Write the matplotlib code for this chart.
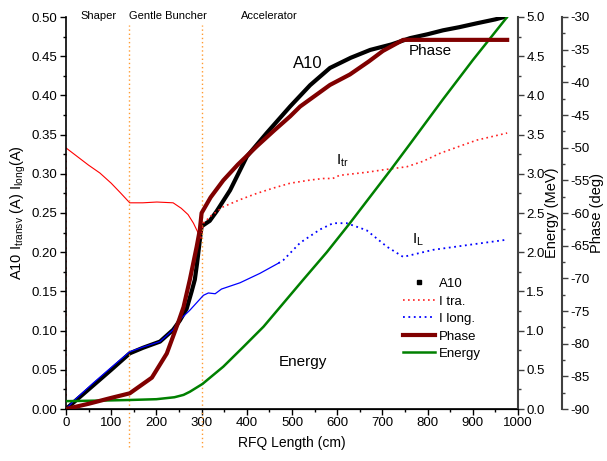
import matplotlib
matplotlib.use("Agg")
import matplotlib.pyplot as plt
from matplotlib.lines import Line2D
from matplotlib.ticker import MultipleLocator, FormatStrFormatter

plt.rcParams['font.family'] = ['Liberation Sans', 'DejaVu Sans']
plt.rcParams['mathtext.fontset'] = 'custom'
plt.rcParams['mathtext.rm'] = 'Liberation Sans'
plt.rcParams['mathtext.default'] = 'regular'
plt.rcParams['axes.unicode_minus'] = False

# ---------------- data ----------------
a10_x = [0, 20, 60, 100, 141, 170, 208, 237, 252, 267, 278, 285, 290, 296, 300, 318, 333, 363,
         400, 444, 496, 540, 584, 630, 673, 720, 761, 800, 834, 870, 909, 950, 976]
a10_y = [0, 0.01, 0.03, 0.05, 0.071, 0.078, 0.086, 0.101, 0.113, 0.128, 0.15, 0.165, 0.186,
         0.215, 0.233, 0.24, 0.252, 0.279, 0.322, 0.352, 0.386, 0.413, 0.435, 0.448, 0.458,
         0.465, 0.473, 0.478, 0.483, 0.487, 0.492, 0.497, 0.501]

itra_start_x = [0, 0]
itra_start_y = [0.0, 0.333]
itra_dense_x = [0, 25, 50, 75, 100, 120, 141, 170, 201, 237, 255, 270, 282, 292, 298]
itra_dense_y = [0.333, 0.322, 0.311, 0.301, 0.288, 0.276, 0.263, 0.263, 0.264, 0.263, 0.256,
                0.248, 0.237, 0.225, 0.218]
itra_sparse_x = [298, 304, 320, 348, 385, 422, 460, 496, 540, 569, 590, 605, 666, 701, 754,
                 790, 827, 870, 909, 976]
itra_sparse_y = [0.218, 0.237, 0.246, 0.258, 0.267, 0.275, 0.282, 0.288, 0.292, 0.294, 0.294,
                 0.298, 0.302, 0.305, 0.309, 0.316, 0.326, 0.335, 0.343, 0.352]

ilong_dense_x = [0, 20, 60, 100, 141, 170, 208, 237, 252, 274, 304, 315, 330, 344, 385, 429,
                 470]
ilong_dense_y = [0, 0.012, 0.033, 0.053, 0.073, 0.079, 0.086, 0.101, 0.114, 0.126, 0.145,
                 0.148, 0.147, 0.153, 0.161, 0.173, 0.186]
ilong_sparse_x = [470, 481, 518, 562, 591, 621, 665, 710, 746, 812, 887, 976]
ilong_sparse_y = [0.186, 0.19, 0.212, 0.229, 0.237, 0.237, 0.228, 0.207, 0.194, 0.203, 0.209,
                  0.216]

phase_x = [0, 50, 100, 141, 190, 223, 248, 260, 274, 289, 296, 300, 320, 348, 380, 422, 460,
           496, 518, 584, 628, 670, 701, 746, 800, 900, 976]
phase_deg = [-90.0, -89.2, -88.3, -87.6, -85.2, -81.5, -76.8, -74.4, -70.2, -65.2, -62.6,
             -60.0, -57.6, -55.0, -52.6, -49.8, -47.4, -45.2, -43.7, -40.4, -38.8, -36.8,
             -35.2, -33.5, -33.5, -33.5, -33.5]

energy_x = [0, 50, 100, 141, 200, 240, 260, 274, 302, 348, 392, 437, 481, 525, 577, 628, 717,
            761, 834, 900, 976]
energy_mev = [0.10, 0.105, 0.11, 0.115, 0.125, 0.15, 0.18, 0.22, 0.32, 0.54, 0.79, 1.05,
              1.35, 1.65, 2.0, 2.37, 3.04, 3.38, 3.95, 4.45, 5.0]

section_x = [140, 300]
section_names = ["Shaper", "Gentle Buncher", "Accelerator"]
section_label_x = [71, 226, 451]

# ---------------- figure ----------------
fig = plt.figure(figsize=(6.07, 4.61), dpi=100)
ax = fig.add_axes([66/607, 1-409/461, 452/607, 392/461])
ax_e = ax.twinx()
ax_p = ax.twinx()
ax_p.spines['right'].set_position(('outward', 44 * 72 / 100))

ax.plot(a10_x, a10_y, color='black', lw=3.0, zorder=2, solid_capstyle='butt')
ax.plot(itra_start_x, itra_start_y, color='#ff2020', lw=1.2, ls=(0, (1, 3)))
ax.plot(itra_dense_x, itra_dense_y, color='#ff0000', lw=0.8)
ax.plot(itra_sparse_x, itra_sparse_y, color='#ff2020', lw=1.2, ls=(0, (1, 2)))
ax.plot(ilong_dense_x, ilong_dense_y, color='#0000ff', lw=0.9, zorder=3)
ax.plot(ilong_sparse_x, ilong_sparse_y, color='#0000ff', lw=1.3, ls=(0, (1, 2)))

ax_p.plot(phase_x, phase_deg, color='#800000', lw=3.0)
ax_e.plot(energy_x, energy_mev, color='#008000', lw=1.8)

for sx in section_x:
    ax.axvline(sx, ymin=-0.097, ymax=0.98, color='#ff9a30', lw=1.0, ls=(0, (1, 2)),
               clip_on=False)

for name, lx in zip(section_names, section_label_x):
    ax.text(lx, 0.501, name, ha='center', va='center', fontsize=8)

ax.text(535, 0.441, "A10", ha='center', va='center', fontsize=12)
ax.text(805, 0.457, "Phase", ha='center', va='center', fontsize=11)
ax.text(597, 0.316, "I$_{tr}$", ha='left', va='center', fontsize=11)
ax.text(765, 0.216, "I$_{L}$", ha='left', va='center', fontsize=11)
ax.text(524, 0.06, "Energy", ha='center', va='center', fontsize=11)

# axes limits and ticks
ax.set_xlim(0, 1000)
ax.set_ylim(0, 0.5)
ax_e.set_ylim(0, 5)
ax_p.set_ylim(-90, -30)

ax.xaxis.set_major_locator(MultipleLocator(100))
ax.xaxis.set_minor_locator(MultipleLocator(50))
ax.yaxis.set_major_locator(MultipleLocator(0.05))
ax.yaxis.set_minor_locator(MultipleLocator(0.025))
ax.yaxis.set_major_formatter(FormatStrFormatter('%.2f'))
ax_e.yaxis.set_major_locator(MultipleLocator(0.5))
ax_e.yaxis.set_minor_locator(MultipleLocator(0.25))
ax_e.yaxis.set_major_formatter(FormatStrFormatter('%.1f'))
ax_p.yaxis.set_major_locator(MultipleLocator(5))
ax_p.yaxis.set_minor_locator(MultipleLocator(2.5))

for a in (ax, ax_e, ax_p):
    a.spines['top'].set_visible(False)
    a.tick_params(which='major', length=4, width=1, labelsize=9.5, pad=2)
    a.tick_params(which='minor', length=2.5, width=1)

ax.spines['right'].set_visible(False)
ax_e.spines['left'].set_visible(False)
ax_p.spines['left'].set_visible(False)
ax.spines['left'].set_linewidth(1.2)
ax.spines['bottom'].set_linewidth(1.2)
for a in (ax_e, ax_p):
    a.spines['right'].set_color('#404040')
    a.spines['right'].set_linewidth(1.5)
    a.tick_params(axis='y', which='both', color='#404040')

ax.set_xlabel("RFQ Length (cm)", fontsize=10, labelpad=5)
ax.set_ylabel("A10 I$_{transv}$ (A) I$_{long}$(A)", fontsize=10.5, labelpad=3)
ax_e.set_ylabel("Energy (MeV)", fontsize=10.5, labelpad=0)
ax_p.set_ylabel("Phase (deg)", fontsize=10.5, labelpad=0)

handles = [
    Line2D([], [], ls='none', marker='s', ms=2.5, color='black'),
    Line2D([], [], color='#ff2020', lw=1.2, ls=(0, (1, 2))),
    Line2D([], [], color='#0000ff', lw=1.3, ls=(0, (1, 2))),
    Line2D([], [], color='#800000', lw=3.0),
    Line2D([], [], color='#008000', lw=1.8),
]
labels = ["A10", "I tra.", "I long.", "Phase", "Energy"]
ax_p.legend(handles, labels, loc='upper left', bbox_to_anchor=(0.72, 0.365), frameon=False,
            fontsize=9.5, handlelength=2.4, labelspacing=0.4, handletextpad=0.3)

fig.savefig("out.png", dpi=100)
